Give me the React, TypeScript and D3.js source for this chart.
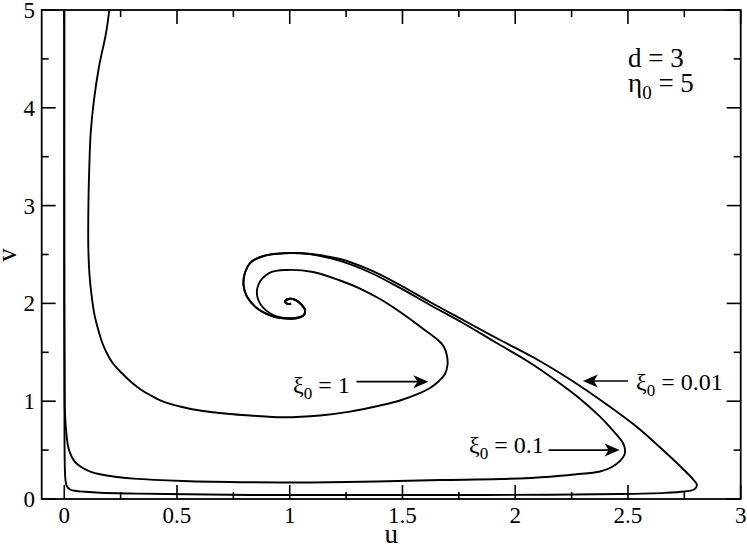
import React from 'react';
import * as d3 from 'd3';

type P = [number, number];

const W = 747;
const H = 546;

const xDomain: P = [-0.1, 3];
const yDomain: P = [0, 5];
const xMajorTicks = [0, 0.5, 1, 1.5, 2, 2.5, 3];
const xTickLabels = ['0', '0.5', '1', '1.5', '2', '2.5', '3'];
const xMinorTicks = [0.25, 0.75, 1.25, 1.75, 2.25, 2.75];
const yMajorTicks = [0, 1, 2, 3, 4, 5];
const yTickLabels = ['0', '1', '2', '3', '4', '5'];
const yMinorTicks = [0.5, 1.5, 2.5, 3.5, 4.5];

// shared final curl into the fixed point (1, 2)
const spiralTail: P[] = [
  [1.03, 1.848], [1.062, 1.88], [1.068, 1.93], [1.055, 1.98], [1.025, 2.035],
  [0.995, 2.045], [0.98, 2.02], [0.988, 1.997], [1.006, 1.996],
];

// outer loop of the spiral shared by xi0 = 0.01 and xi0 = 0.1
const outerLoop: P[] = [
  [1.09, 2.505], [1.001, 2.515], [0.884, 2.485], [0.825, 2.415], [0.8, 2.3],
  [0.795, 2.19], [0.81, 2.07], [0.855, 1.95], [0.929, 1.865], [0.99, 1.845],
];

const xi001Path: P[] = [
  [0.0, 5.0], [0.0002, 2.025], [0.0011, 0.603], [0.0029, 0.297], [0.0055, 0.194],
  [0.0113, 0.133], [0.0255, 0.097], [0.0477, 0.084], [0.092, 0.074], [0.1585, 0.064],
  [0.2916, 0.056], [0.4544, 0.051], [0.8237, 0.041], [1.267, 0.041], [1.711, 0.041],
  [2.154, 0.044], [2.465, 0.051], [2.664, 0.063], [2.749, 0.077], [2.793, 0.097],
  [2.806, 0.143], [2.788, 0.204], [2.74, 0.317], [2.655, 0.501], [2.54, 0.736],
  [2.403, 0.971], [2.247, 1.217], [2.101, 1.421], [1.933, 1.626], [1.769, 1.83],
  [1.622, 2.014], [1.489, 2.188], [1.356, 2.342], [1.223, 2.454],
];

const xi01Path: P[] = [
  [0.0, 5.0], [0.0002, 2.025], [0.0016, 1.217], [0.0033, 0.876], [0.0109, 0.637],
  [0.0188, 0.521], [0.033, 0.432], [0.0521, 0.368], [0.0845, 0.314], [0.1186, 0.278],
  [0.1585, 0.253], [0.2251, 0.227], [0.3062, 0.208], [0.5266, 0.184], [0.8237, 0.171],
  [1.0899, 0.169], [1.387, 0.179], [1.667, 0.194], [1.933, 0.204], [2.155, 0.228],
  [2.265, 0.251], [2.376, 0.281], [2.429, 0.327], [2.465, 0.389], [2.484, 0.45],
  [2.487, 0.501], [2.478, 0.573], [2.457, 0.637], [2.42, 0.736], [2.376, 0.842],
  [2.283, 1.033], [2.177, 1.217], [2.057, 1.406], [1.91, 1.605], [1.768, 1.8],
  [1.622, 1.984], [1.489, 2.158], [1.356, 2.316], [1.223, 2.434],
];

const xi1Path: P[] = [
  [0.1998, 5.0], [0.1852, 4.762], [0.1541, 4.42], [0.1319, 4.08], [0.1173, 3.742],
  [0.1111, 3.395], [0.1075, 3.057], [0.1067, 2.58], [0.112, 2.29], [0.1209, 2.086],
  [0.1342, 1.881], [0.151, 1.728], [0.1674, 1.605], [0.1883, 1.493], [0.2162, 1.385],
  [0.2548, 1.288], [0.2916, 1.207], [0.3359, 1.125], [0.3803, 1.063], [0.4393, 0.995],
  [0.5133, 0.946], [0.5874, 0.91], [0.7351, 0.869], [0.8238, 0.854], [0.9702, 0.836],
  [1.1343, 0.854], [1.2673, 0.893], [1.4004, 0.956], [1.4891, 1.007], [1.5689, 1.074],
  [1.6221, 1.135], [1.662, 1.207], [1.6886, 1.278], [1.6997, 1.37], [1.6975, 1.462],
  [1.6842, 1.554], [1.662, 1.616], [1.6265, 1.682], [1.5866, 1.748], [1.5334, 1.84],
  [1.4668, 1.948], [1.4004, 2.045], [1.3117, 2.152], [1.223, 2.234], [1.1032, 2.321],
  [0.9878, 2.342], [0.9125, 2.314], [0.8606, 2.188], [0.8606, 2.035], [0.9125, 1.899],
  [0.9866, 1.848],
];

const curveLabels = [
  { text: '1', x: 293, y: 393, arrow: [1.296, 1.2, 1.615, 1.2] },
  { text: '0.1', x: 469, y: 453, arrow: [2.148, 0.5, 2.463, 0.5] },
  { text: '0.01', x: 636, y: 390, arrow: [2.5, 1.207, 2.3, 1.207] },
];

const SERIF = "'Liberation Serif', 'Times New Roman', Times, serif";

export default function App() {
  const left = 41.7, right = 740.7, top = 10, bottom = 499;
  const x = d3.scaleLinear().domain(xDomain).range([left, right]);
  const y = d3.scaleLinear().domain(yDomain).range([bottom, top]);

  const line = d3
    .line<P>()
    .x((d) => x(d[0]))
    .y((d) => y(d[1]))
    .curve(d3.curveCatmullRom.alpha(0.5));

  const curves = [
    [...xi001Path, ...outerLoop, ...spiralTail],
    [...xi01Path, ...outerLoop, ...spiralTail],
    [...xi1Path, ...spiralTail.slice(1)],
  ];

  const arrowHead = (x1: number, y1: number, x2: number, y2: number) => {
    const dx = x2 - x1, dy = y2 - y1;
    const len = Math.hypot(dx, dy);
    const ux = dx / len, uy = dy / len;
    const px = -uy, py = ux;
    const L = 15, Wd = 6.5, N = 11;
    return `M${x2},${y2} L${x2 - ux * L + px * Wd},${y2 - uy * L + py * Wd} L${x2 - ux * N},${y2 - uy * N} L${x2 - ux * L - px * Wd},${y2 - uy * L - py * Wd} Z`;
  };

  const txt = { fontFamily: SERIF, fill: '#000' } as React.CSSProperties;

  return (
    <svg width={W} height={H} style={{ position: 'absolute', left: 0, top: 0, background: '#fff' }}>
      <rect x={0} y={0} width={W} height={H} fill="#fff" />
      <defs>
        <clipPath id="plotclip">
          <rect x={left} y={top} width={right - left} height={bottom - top} />
        </clipPath>
      </defs>
      <g clipPath="url(#plotclip)">
        {curves.map((c, i) => (
          <path key={i} d={line(c) || ''} fill="none" stroke="#000" strokeWidth={1.9} strokeLinejoin="round" />
        ))}
      </g>
      {/* frame */}
      <rect x={left} y={top} width={right - left} height={bottom - top} fill="none" stroke="#000" strokeWidth={1.8} />
      {/* ticks */}
      {xMajorTicks.map((t) => (
        <g key={'xm' + t}>
          <line x1={x(t)} x2={x(t)} y1={bottom} y2={bottom - 14} stroke="#000" strokeWidth={1.6} />
          <line x1={x(t)} x2={x(t)} y1={top} y2={top + 14} stroke="#000" strokeWidth={1.6} />
        </g>
      ))}
      {xMinorTicks.map((t) => (
        <g key={'xn' + t}>
          <line x1={x(t)} x2={x(t)} y1={bottom} y2={bottom - 7} stroke="#000" strokeWidth={1.6} />
          <line x1={x(t)} x2={x(t)} y1={top} y2={top + 7} stroke="#000" strokeWidth={1.6} />
        </g>
      ))}
      {yMajorTicks.map((t) => (
        <g key={'ym' + t}>
          <line x1={left} x2={left + 14} y1={y(t)} y2={y(t)} stroke="#000" strokeWidth={1.6} />
          <line x1={right} x2={right - 14} y1={y(t)} y2={y(t)} stroke="#000" strokeWidth={1.6} />
        </g>
      ))}
      {yMinorTicks.map((t) => (
        <g key={'yn' + t}>
          <line x1={left} x2={left + 7} y1={y(t)} y2={y(t)} stroke="#000" strokeWidth={1.6} />
          <line x1={right} x2={right - 7} y1={y(t)} y2={y(t)} stroke="#000" strokeWidth={1.6} />
        </g>
      ))}
      {/* tick labels */}
      {xMajorTicks.map((t, i) => (
        <text key={'xl' + t} x={x(t)} y={523} textAnchor="middle" style={{ ...txt, fontSize: 23 }}>
          {xTickLabels[i]}
        </text>
      ))}
      {yMajorTicks.map((t, i) => (
        <text key={'yl' + t} x={35} y={y(t) + 8} textAnchor="end" style={{ ...txt, fontSize: 23 }}>
          {yTickLabels[i]}
        </text>
      ))}
      {/* axis titles */}
      <text x={(left + right) / 2} y={543} textAnchor="middle" style={{ ...txt, fontSize: 27 }}>u</text>
      <text transform={`translate(16,255) rotate(-90)`} textAnchor="middle" style={{ ...txt, fontSize: 27 }}>v</text>
      {/* parameters */}
      <text x={628} y={66.5} style={{ ...txt, fontSize: 27 }}>d = 3</text>
      <text x={628} y={91.5} style={{ ...txt, fontSize: 27 }}>
        η<tspan style={{ fontSize: 19 }} dy={7}>0</tspan><tspan dy={-7}> = 5</tspan>
      </text>
      {/* curve labels with arrows */}
      {curveLabels.map((c) => {
        const [u1, v1, u2, v2] = c.arrow;
        const x1 = x(u1), y1 = y(v1), x2 = x(u2), y2 = y(v2);
        return (
          <g key={c.text}>
            <text x={c.x} y={c.y} style={{ ...txt, fontSize: 24 }}>
              ξ<tspan style={{ fontSize: 17 }} dy={6}>0</tspan><tspan dy={-6}> = {c.text}</tspan>
            </text>
            <line x1={x1} y1={y1} x2={x2 - Math.sign(x2 - x1) * 10} y2={y2} stroke="#000" strokeWidth={1.6} />
            <path d={arrowHead(x1, y1, x2, y2)} fill="#000" />
          </g>
        );
      })}
    </svg>
  );
}
